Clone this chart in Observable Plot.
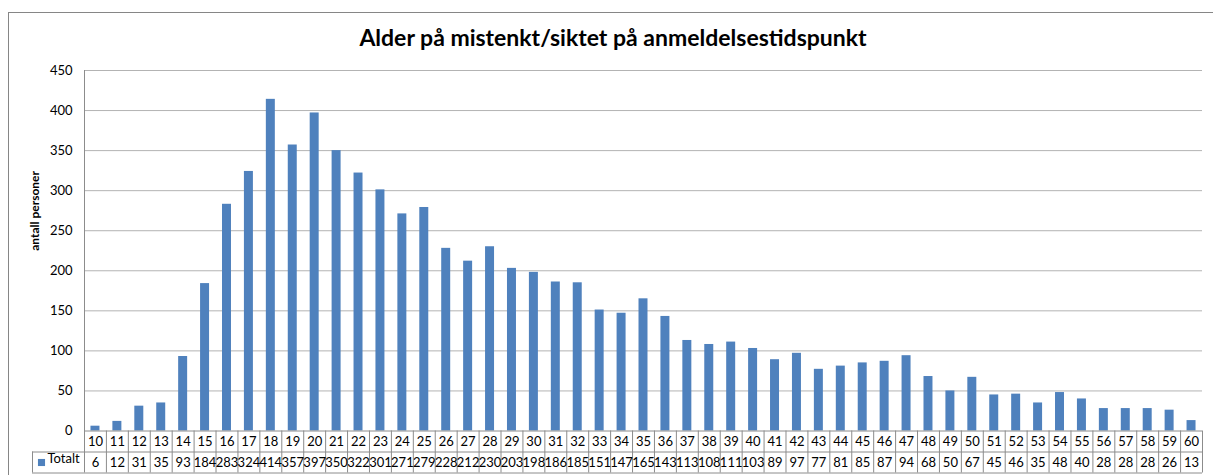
<!DOCTYPE html>
<html><head><meta charset="utf-8">
<script src="https://cdn.jsdelivr.net/npm/d3@7"></script>
<script src="https://cdn.jsdelivr.net/npm/@observablehq/plot@0.6"></script>
<style>
body{margin:0;width:1213px;height:475px;overflow:hidden;background:#fff;font-family:Lato,sans-serif;position:relative}
#border{position:absolute;left:8px;top:12px;width:1400px;height:600px;border-left:1px solid #868686;border-top:1px solid #868686;pointer-events:none}
#title{height:48px;box-sizing:border-box;padding-top:26px;padding-left:13px;text-align:center;font-weight:bold;font-size:23px;line-height:1;color:#000}
</style></head><body>
<div id="border"></div>
<div id="title">Alder på mistenkt/siktet på anmeldelsestidspunkt</div>
<div id="chart"></div>
<script>
const ages = [10,11,12,13,14,15,16,17,18,19,20,21,22,23,24,25,26,27,28,29,30,31,32,33,34,35,36,37,38,39,40,41,42,43,44,45,46,47,48,49,50,51,52,53,54,55,56,57,58,59,60];
const totals = [6,12,31,35,93,184,283,324,414,357,397,350,322,301,271,279,228,212,230,203,198,186,185,151,147,165,143,113,108,111,103,89,97,77,81,85,87,94,68,50,67,45,46,35,48,40,28,28,28,26,13];
const yTicks = [0,50,100,150,200,250,300,350,400,450];
const seriesName = "Totalt";
const yLabel = "antall personer";

const data = ages.map((a, i) => ({age: a, total: totals[i]}));
const W = 1213, H = 427, mL = 84, mR = 11, mT = 22, mB = 44.5;
const step = (W - mL - mR) / ages.length;
const grid = "#b3b3b3", line = "#8c8c8c", blue = "#4F81BD";

const chart = Plot.plot({
  width: W, height: H, marginLeft: mL, marginRight: mR, marginTop: mT, marginBottom: mB,
  style: {fontFamily: "Lato, sans-serif", fontSize: "13px", color: "#000", background: "transparent", overflow: "visible"},
  x: {type: "band", domain: ages, paddingInner: 0.59, paddingOuter: 0.295, axis: null},
  y: {domain: [0, 450], ticks: yTicks, tickSize: 0, tickPadding: 12, label: null},
  marks: [
    Plot.ruleY(yTicks.slice(1), {stroke: grid}),
    Plot.barY(data, {x: "age", y: "total", fill: blue}),
    Plot.ruleY([0], {stroke: line}),
    Plot.ruleY([0], {stroke: line, dy: 21, insetLeft: -52}),
    Plot.ruleY([0], {stroke: line, dy: 42, insetLeft: -52}),
    Plot.ruleX(ages, {x: d => d, dx: step / 2, y1: 0, y2: 0, insetBottom: -42, stroke: line}),
    Plot.ruleX([ages[0]], {x: d => d, dx: -step / 2, insetBottom: -42, stroke: line}),
    Plot.ruleX([ages[0]], {x: d => d, dx: -step / 2 - 52, y1: 0, y2: 0, insetTop: 21, insetBottom: -42, stroke: line}),
    Plot.text(data, {x: "age", y: 0, text: d => String(d.age), dy: 11}),
    Plot.text(data, {x: "age", y: 0, text: d => String(d.total), dy: 32}),
    Plot.dot([seriesName], {frameAnchor: "bottom-left", dx: -43, dy: 31.5, symbol: "square", r: 4, fill: blue, stroke: null}),
    Plot.text([seriesName], {frameAnchor: "bottom-left", text: d => d, textAnchor: "start", dx: -37, dy: 32}),
    Plot.text([yLabel], {frameAnchor: "left", text: d => d, rotate: -90, dx: -49, fontWeight: "bold", fontSize: 12})
  ]
});
document.getElementById("chart").appendChild(chart);
</script>
</body></html>
